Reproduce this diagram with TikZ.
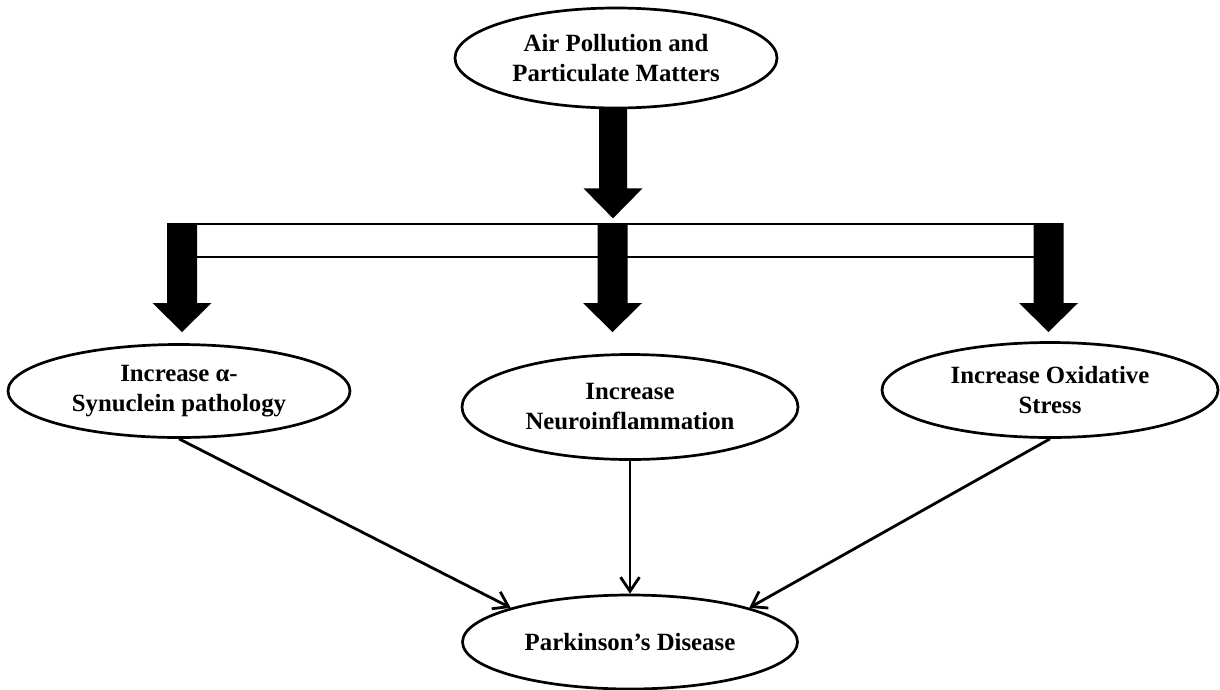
\documentclass[tikz,border=0pt]{standalone}
\usepackage{fontspec}
\setmainfont{Liberation Serif}
\usetikzlibrary{shapes.geometric,arrows.meta,calc}
\begin{document}
\begin{tikzpicture}[x=1pt,y=-1pt,
  oval/.style={ellipse,draw,line width=2.7pt,inner sep=0pt,align=center,
    font=\fontsize{24.8}{30}\selectfont\bfseries},
  conn/.style={line width=2.8pt,-{Straight Barb[length=14pt,width=19pt,line width=2.8pt]}},
  frame/.style={line width=2.4pt},
  blockdown/.pic={\fill (-15,0) -- (15,0) -- (15,80) -- (29.5,80) -- (0,109) -- (-29.5,80) -- (-15,80) -- cycle;}
]
\useasboundingbox (0,0) rectangle (1220,689);
\node[oval,minimum width=322pt,minimum height=100pt] (air) at (616,58) {Air Pollution and\\Particulate Matters};
\node[oval,minimum width=342pt,minimum height=93pt] (left) at (179,391) {Increase α-\\Synuclein pathology};
\node[oval,minimum width=336pt,minimum height=105pt] (mid) at (630,407) {Increase\\Neuroinflammation};
\node[oval,minimum width=336pt,minimum height=95pt] (right) at (1050,390) {Increase Oxidative\\Stress};
\node[oval,minimum width=335pt,minimum height=94pt] (park) at (630,642) {Parkinson’s Disease};
% big arrow from top node
\fill ($(air.south)+(-17,-2)$) -- ++(28,0) -- ++(0,81) -- ++(15.5,0) -- ++(-29.5,30) -- ++(-29.5,-30) -- ++(15.5,0) -- cycle;
% distribution frame
\draw[frame] (167,224) -- (1063,224);
\draw[frame] (197,257) -- (598,257) (627,257) -- (1034,257);
\pic at (182,223) {blockdown};
\pic at (612.5,223) {blockdown};
\pic at (1048.5,223) {blockdown};
% connectors
\draw[conn] (left.south) -- (park.164);
\draw[conn] (mid.south) -- (park.north);
\draw[conn] (right.south) -- (park.16);
\end{tikzpicture}
\end{document}
